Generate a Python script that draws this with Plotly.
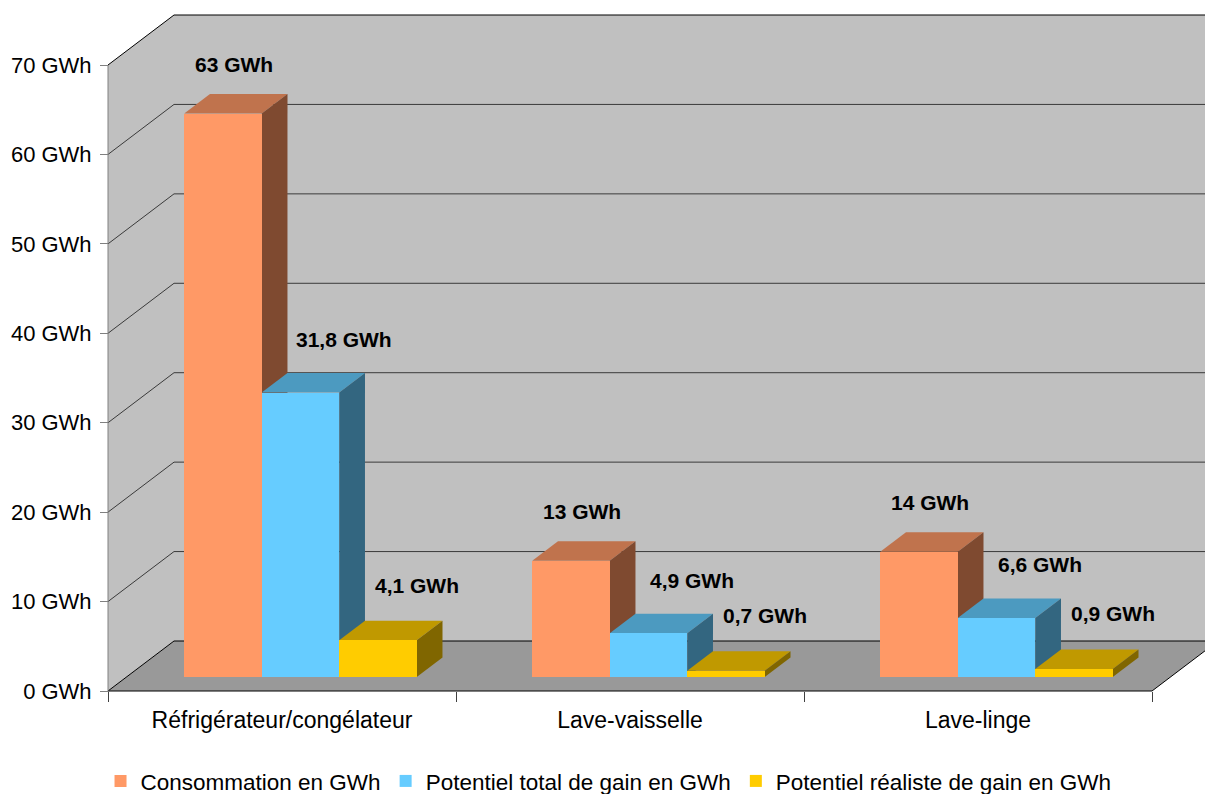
import plotly.graph_objects as go

# ---- data ----
categories = ["Réfrigérateur/congélateur", "Lave-vaisselle", "Lave-linge"]
series_names = [
    "Consommation en GWh",
    "Potentiel total de gain en GWh",
    "Potentiel réaliste de gain en GWh",
]
consommation = [63, 13, 14]
potentiel_total = [31.8, 4.9, 6.6]
potentiel_realiste = [4.1, 0.7, 0.9]
y_tick_values = [0, 10, 20, 30, 40, 50, 60, 70]
y_tick_labels = [f"{v} GWh" for v in y_tick_values]

series_values = [consommation, potentiel_total, potentiel_realiste]

# ---- styling ----
FRONT = ["#FF9966", "#66CCFF", "#FFCC00"]
TOP = ["#C0734D", "#4C9AC0", "#C09900"]
SIDE = ["#7F4A30", "#336680", "#806600"]
WALL = "#C0C0C0"
FLOOR = "#999999"
GRID = "#3A3A3A"
FONT = "Liberation Sans, Arial, sans-serif"

# ---- page geometry (oblique 3D projection drawn on a 2D cartesian plot) ----
W, H = 1205, 794
M_L, M_R, M_T, M_B = 106, 0, 0, 101
PLOT_W = W - M_L - M_R
PLOT_H = H - M_T - M_B
PX_PER_CAT = 348.0            # horizontal pixels per category slot
PX_PER_GWH = 626.0 / 70.0     # vertical pixels per GWh
ORIGIN_X_PX = 2.0             # front-left corner offset inside the plot area
ORIGIN_Y_PX = 2.0

x_lo = -0.5 - ORIGIN_X_PX / PX_PER_CAT
x_hi = x_lo + PLOT_W / PX_PER_CAT
y_lo = -ORIGIN_Y_PX / PX_PER_GWH
y_hi = y_lo + PLOT_H / PX_PER_GWH

# full depth of the box, expressed in axis units
DX = 66.0 / PX_PER_CAT
DY = 50.0 / PX_PER_GWH
# bar placement in depth
BAR_FRONT = 0.28
BAR_DEPTH = 0.39
BAR_W = 77.5 / PX_PER_CAT

y_top = y_tick_values[-1]
x_left, x_right = -0.5, len(categories) - 0.5
x_far = x_hi + 0.2


def poly(points, fill):
    path = "M " + " L ".join(f"{x},{y}" for x, y in points) + " Z"
    return dict(type="path", xref="x", yref="y", path=path,
                fillcolor=fill, line=dict(width=0), layer="below")


def seg(x0, y0, x1, y1, color=GRID, width=1):
    return dict(type="line", xref="x", yref="y", x0=x0, y0=y0, x1=x1, y1=y1,
                line=dict(color=color, width=width), layer="below")


shapes = []
# walls and floor
shapes.append(poly([(x_left, 0), (x_left, y_top), (x_left + DX, y_top + DY),
                    (x_left + DX, DY)], WALL))
shapes.append(poly([(x_left + DX, DY), (x_left + DX, y_top + DY),
                    (x_far, y_top + DY), (x_far, DY)], WALL))
shapes.append(poly([(x_left, 0), (x_right, 0), (x_right + DX, DY),
                    (x_left + DX, DY)], FLOOR))

# grid lines on the left and back walls
for v in y_tick_values:
    c = "#000000" if v in (0, y_top) else GRID
    shapes.append(seg(x_left, v, x_left + DX, v + DY, c))
    shapes.append(seg(x_left + DX, v + DY, x_far, v + DY, c))

# floor edges and front-left edge
shapes.append(seg(x_left, 0, x_right, 0, "#000000"))
shapes.append(seg(x_right, 0, x_right + DX, DY, "#000000"))
shapes.append(seg(x_left, 0, x_left, y_top, "#808080"))

# top and side faces of each bar
b0 = BAR_FRONT * DY
bdx, bdy = BAR_DEPTH * DX, BAR_DEPTH * DY
bar_x = []
for k, vals in enumerate(series_values):
    xs = []
    for c, v in enumerate(vals):
        xc = c + (k - 1) * BAR_W + BAR_FRONT * DX
        xs.append(xc)
    bar_x.append(xs)

for c in range(len(categories)):
    for k, vals in enumerate(series_values):
        v = vals[c]
        xl = bar_x[k][c] - BAR_W / 2
        xr = bar_x[k][c] + BAR_W / 2
        shapes.append(poly([(xl, v + b0), (xr, v + b0), (xr + bdx, v + b0 + bdy),
                            (xl + bdx, v + b0 + bdy)], TOP[k]))
        shapes.append(poly([(xr, b0), (xr, v + b0), (xr + bdx, v + b0 + bdy),
                            (xr + bdx, b0 + bdy)], SIDE[k]))

fig = go.Figure()
for k, vals in enumerate(series_values):
    fig.add_trace(go.Bar(
        x=bar_x[k], y=vals, base=[b0] * len(vals), width=BAR_W,
        name=series_names[k],
        marker=dict(color=FRONT[k], line=dict(width=0)),
        hoverinfo="skip",
    ))


def fmt(v):
    return f"{v:g}".replace(".", ",") + " GWh"


# value labels, nudged up and right of each bar
LABEL_DX = [11, 44, 39]
LABEL_DY = [49, 53, 55]
annotations = []
for k, vals in enumerate(series_values):
    for c, v in enumerate(vals):
        annotations.append(dict(
            x=bar_x[k][c], y=v + b0, xref="x", yref="y", text=fmt(v),
            showarrow=False, xanchor="center", yanchor="middle",
            xshift=LABEL_DX[k], yshift=LABEL_DY[k],
            font=dict(family=FONT, size=21, color="#000000", weight="bold"),
        ))

fig.update_layout(
    width=W, height=H,
    margin=dict(l=M_L, r=M_R, t=M_T, b=M_B, pad=0),
    paper_bgcolor="#FFFFFF", plot_bgcolor="rgba(0,0,0,0)",
    barmode="overlay", bargap=0,
    shapes=shapes, annotations=annotations,
    font=dict(family=FONT, size=21, color="#000000"),
    showlegend=True,
    legend=dict(
        orientation="h", xref="container", yref="container",
        x=0.505, xanchor="center", y=0.016, yanchor="middle",
        font=dict(family=FONT, size=22.5, color="#000000"),
        bgcolor="rgba(0,0,0,0)", traceorder="normal",
    ),
    xaxis=dict(
        range=[x_lo, x_hi], showgrid=False, zeroline=False, showline=False,
        tickmode="array", tickvals=list(range(len(categories))), ticktext=categories,
        tickfont=dict(family=FONT, size=23, color="#000000"),
        ticks="", ticklabelstandoff=13, automargin=False,
        anchor="free", position=ORIGIN_Y_PX / PLOT_H,
        minor=dict(tickmode="array", tickvals=[i - 0.5 for i in range(len(categories) + 1)],
                   ticks="outside", ticklen=10, tickcolor="#404040", tickwidth=1,
                   showgrid=False),
        fixedrange=True,
    ),
    yaxis=dict(
        range=[y_lo, y_hi], showgrid=False, zeroline=False, showline=False,
        tickmode="array", tickvals=y_tick_values, ticktext=y_tick_labels,
        tickfont=dict(family=FONT, size=22, color="#000000"),
        ticks="outside", ticklen=8, tickcolor="#808080", tickwidth=1,
        ticklabelstandoff=4, automargin=False,
        anchor="free", position=ORIGIN_X_PX / PLOT_W,
        fixedrange=True,
    ),
)

fig.write_html("out.html")
